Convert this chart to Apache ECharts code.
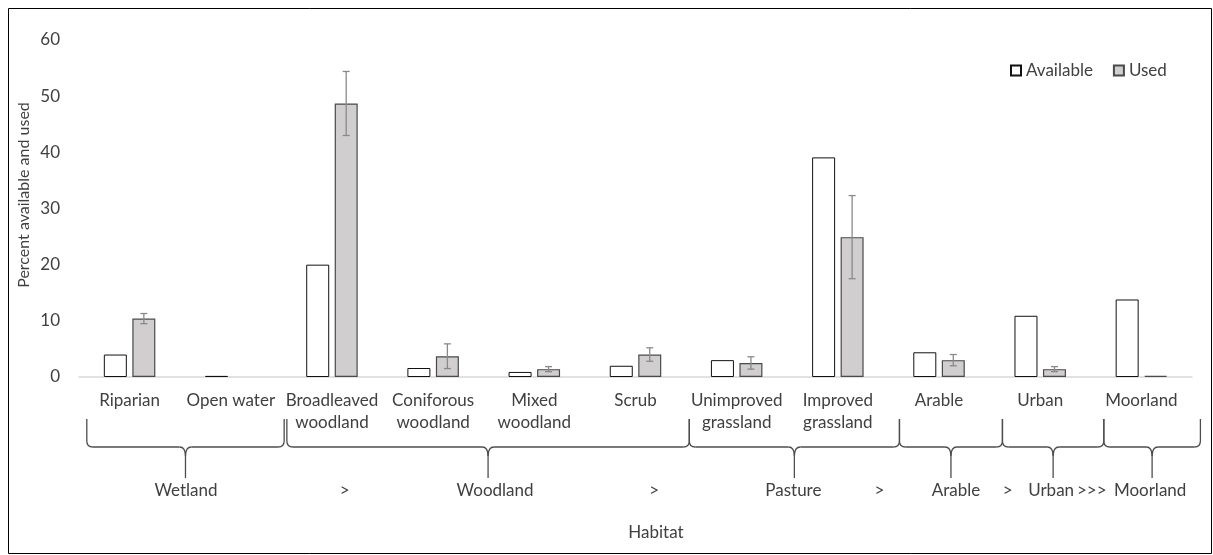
<!DOCTYPE html>
<html>
<head>
<meta charset="utf-8">
<script src="https://cdn.jsdelivr.net/npm/echarts@6/dist/echarts.min.js"></script>
<style>
  html, body { margin: 0; padding: 0; background: #fff; }
  #chart { width: 1213px; height: 555px; }
</style>
</head>
<body>
<div id="chart"></div>
<script>
// Habitat categories along the x axis
const categories = [
  'Riparian', 'Open water', 'Broadleaved\nwoodland', 'Coniforous\nwoodland',
  'Mixed\nwoodland', 'Scrub', 'Unimproved\ngrassland', 'Improved\ngrassland',
  'Arable', 'Urban', 'Moorland'
];
// Percent of each habitat available and used
const available = [4.0, 0.2, 20.0, 1.6, 0.9, 2.0, 3.0, 39.1, 4.4, 10.9, 13.8];
const used      = [10.4, 0, 48.7, 3.7, 1.4, 4.0, 2.5, 24.9, 3.0, 1.4, 0.2];
const usedError = [0.9, 0, 5.7, 2.2, 0.45, 1.2, 1.1, 7.4, 1.0, 0.45, 0];
// Value axis ticks
const yMin = 0, yMax = 60, yStep = 10;
// Broad habitat groups (index range of categories) and the preference ranking between them
const groupNames = ['Wetland', 'Woodland', 'Pasture', 'Arable', 'Urban', 'Moorland'];
const groupFirst = [0, 2, 6, 8, 9, 10];
const groupLast  = [1, 5, 7, 8, 9, 10];
const rankSymbols = ['>', '>', '>', '>', '>>>'];

// ---- layout ----
const FONT = 'Lato, "Noto Sans", sans-serif';
const TEXT = '#404040';
const BAR_W = 23;
const BAR_GAP = 5.5;
const BRACE_TOP = 419, BRACE_MID = 447, BRACE_STEM = 478;
const GROUP_LABEL_Y = 491;
const braceShift = [[7.8, 2.8], [5.5, 3.2], [3.2, 11], [11, 12.8], [12.8, 13], [13, 8.4]];
const labelShift = [0.5, 7, -1, 5, -2, -2];
const rankPos = [0.526, 0.542, 0.544, 0.555, 0.39];

const chart = echarts.init(document.getElementById('chart'), null, { renderer: 'canvas' });

const usedData = used.map(v => v === 0 ? { value: v, itemStyle: { borderWidth: 0 } } : v);

chart.setOption({
  animation: false,
  backgroundColor: '#ffffff',
  textStyle: { fontFamily: FONT },
  grid: { left: 79, top: 40, width: 1113, height: 337, containLabel: false },
  legend: {
    data: ['Available', 'Used'],
    left: 1005, top: 57,
    itemWidth: 10, itemHeight: 10, itemGap: 20,
    icon: 'rect',
    textStyle: { fontFamily: FONT, fontSize: 17, color: TEXT }
  },
  xAxis: {
    type: 'category',
    data: categories,
    axisLine: { lineStyle: { color: '#d9d9d9', width: 1.5 } },
    axisTick: { show: false },
    axisLabel: { interval: 0, margin: 13, fontFamily: FONT, fontSize: 17, lineHeight: 22, color: TEXT }
  },
  yAxis: {
    type: 'value', min: yMin, max: yMax, interval: yStep,
    axisLine: { show: false }, axisTick: { show: false }, splitLine: { show: false },
    axisLabel: { margin: 19, fontFamily: FONT, fontSize: 17, color: TEXT }
  },
  series: [
    {
      name: 'Available', type: 'bar', data: available,
      barWidth: BAR_W, barGap: (BAR_GAP / BAR_W * 100).toFixed(1) + '%',
      itemStyle: { color: '#ffffff', borderColor: '#111111', borderWidth: 1 }
    },
    {
      name: 'Used', type: 'bar', data: usedData,
      barWidth: BAR_W,
      itemStyle: { color: '#d0cece', borderColor: '#4a4a4a', borderWidth: 1.2 }
    },
    {
      name: 'Used error', type: 'custom',
      data: used.map((v, i) => [i, v, usedError[i]]),
      encode: { x: 0, y: 1 },
      z: 10,
      renderItem: function (params, api) {
        const i = api.value(0), v = api.value(1), e = api.value(2);
        if (!e) return null;
        const c = api.coord([i, v]);
        const x = c[0] + (BAR_W + BAR_GAP) / 2;
        const top = api.coord([i, v + e])[1];
        const bot = api.coord([i, v - e])[1];
        const st = { stroke: '#8a8a8a', lineWidth: 1.3 };
        return {
          type: 'group',
          children: [
            { type: 'line', shape: { x1: x, y1: top, x2: x, y2: bot }, style: st },
            { type: 'line', shape: { x1: x - 3.5, y1: top, x2: x + 3.5, y2: top }, style: st },
            { type: 'line', shape: { x1: x - 3.5, y1: bot, x2: x + 3.5, y2: bot }, style: st }
          ]
        };
      }
    }
  ]
});

// Braces grouping the categories, group names and ranking symbols beneath the axis
const braceStyle = { fill: null, stroke: '#4d4d4d', lineWidth: 1.3 };
function seg(x1, y1, x2, y2) {
  return { type: 'line', shape: { x1: x1, y1: y1, x2: x2, y2: y2 }, style: braceStyle, silent: true };
}
function curve(x1, y1, cx, cy, x2, y2) {
  return { type: 'bezierCurve', shape: { x1: x1, y1: y1, cpx1: cx, cpy1: cy, x2: x2, y2: y2 }, style: braceStyle, silent: true };
}
function brace(xl, xr) {
  const xm = (xl + xr) / 2, r = 6, dip = BRACE_MID + 9;
  return [
    seg(xl, BRACE_TOP, xl, BRACE_MID - r),
    curve(xl, BRACE_MID - r, xl, BRACE_MID, xl + r, BRACE_MID),
    seg(xl + r, BRACE_MID, xm - r, BRACE_MID),
    curve(xm - r, BRACE_MID, xm, BRACE_MID, xm, dip),
    curve(xm + r, BRACE_MID, xm, BRACE_MID, xm, dip),
    seg(xm, dip, xm, BRACE_STEM),
    seg(xm + r, BRACE_MID, xr - r, BRACE_MID),
    curve(xr - r, BRACE_MID, xr, BRACE_MID, xr, BRACE_MID - r),
    seg(xr, BRACE_MID - r, xr, BRACE_TOP)
  ];
}

const c0 = chart.convertToPixel({ xAxisIndex: 0 }, 0);
const c1 = chart.convertToPixel({ xAxisIndex: 0 }, 1);
const band = c1 - c0;
const graphics = [];
const stems = [];
groupNames.forEach((name, g) => {
  const xl = chart.convertToPixel({ xAxisIndex: 0 }, groupFirst[g]) - band / 2 + braceShift[g][0];
  const xr = chart.convertToPixel({ xAxisIndex: 0 }, groupLast[g]) + band / 2 + braceShift[g][1];
  const xm = (xl + xr) / 2;
  stems.push(xm);
  brace(xl, xr).forEach(el => graphics.push(el));
  graphics.push({
    type: 'text', x: xm + labelShift[g], y: GROUP_LABEL_Y,
    style: { text: name, font: '17px ' + FONT, fill: TEXT, textAlign: 'center', textVerticalAlign: 'middle' }
  });
});
rankSymbols.forEach((s, k) => {
  const x = stems[k] + rankPos[k] * (stems[k + 1] - stems[k]);
  graphics.push({
    type: 'text', x: x, y: GROUP_LABEL_Y,
    style: { text: s, font: '17px ' + FONT, fill: TEXT, textAlign: 'center', textVerticalAlign: 'middle' }
  });
});
// Axis titles
graphics.push({
  type: 'text', x: 656, y: 533,
  style: { text: 'Habitat', font: '17px ' + FONT, fill: TEXT, textAlign: 'center', textVerticalAlign: 'middle' }
});
graphics.push({
  type: 'text', x: 24, y: 195, rotation: Math.PI / 2,
  style: { text: 'Percent available and used', font: '16px ' + FONT, fill: TEXT, textAlign: 'center', textVerticalAlign: 'middle' }
});
// Chart frame
graphics.push({
  type: 'rect', shape: { x: 8.5, y: 8.5, width: 1203, height: 545 },
  style: { fill: null, stroke: '#000000', lineWidth: 1 }, silent: true
});
chart.setOption({ graphic: graphics });
</script>
</body>
</html>
